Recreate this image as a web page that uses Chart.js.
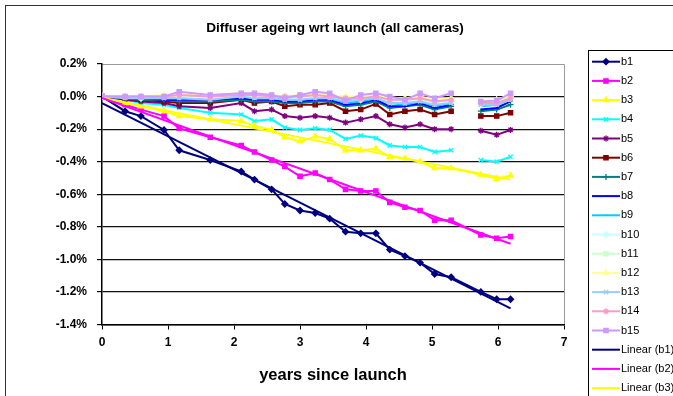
<!DOCTYPE html>
<html>
<head>
<meta charset="utf-8">
<script src="https://cdn.jsdelivr.net/npm/chart.js@4.4.0/dist/chart.umd.min.js"></script>
<style>
  body { margin: 0; background: #fff; }
</style>
</head>
<body>
<canvas id="myChart" width="673" height="396"></canvas>
<script>
// years since launch of each measurement
const years = [0, 0.35, 0.59, 0.94, 1.17, 1.64, 2.11, 2.31, 2.57, 2.77, 3.0, 3.23, 3.45, 3.69, 3.92, 4.15, 4.36, 4.59, 4.82, 5.04, 5.29, 5.74, 5.98, 6.19];

// relative change of diffuser response per band (%)
const b1  = [0, -0.09, -0.12, -0.205, -0.33, -0.39, -0.46, -0.51, -0.57, -0.66, -0.70, -0.715, -0.75, -0.83, -0.84, -0.84, -0.94, -0.98, -1.02, -1.09, -1.11, -1.20, -1.245, -1.245];
const b2  = [0, -0.05, -0.08, -0.12, -0.195, -0.25, -0.30, -0.34, -0.39, -0.43, -0.49, -0.47, -0.51, -0.57, -0.58, -0.58, -0.65, -0.68, -0.70, -0.76, -0.76, -0.85, -0.87, -0.86];
const b3  = [0, -0.04, -0.06, -0.09, -0.12, -0.14, -0.15, -0.18, -0.205, -0.25, -0.275, -0.245, -0.26, -0.33, -0.33, -0.32, -0.37, -0.38, -0.40, -0.44, -0.44, -0.48, -0.505, -0.485];
const b4  = [0, -0.02, -0.04, -0.05, -0.07, -0.10, -0.11, -0.15, -0.14, -0.19, -0.205, -0.195, -0.205, -0.26, -0.24, -0.255, -0.30, -0.31, -0.31, -0.34, -0.33, -0.39, -0.40, -0.37];
const b5  = [0, -0.02, -0.03, -0.04, -0.06, -0.07, -0.04, -0.09, -0.08, -0.12, -0.13, -0.12, -0.13, -0.16, -0.14, -0.12, -0.17, -0.19, -0.17, -0.20, -0.20, -0.21, -0.235, -0.205];
const b6  = [0, -0.01, -0.02, -0.03, -0.04, -0.04, -0.02, -0.04, -0.03, -0.06, -0.05, -0.05, -0.04, -0.09, -0.08, -0.045, -0.11, -0.09, -0.08, -0.11, -0.09, -0.12, -0.12, -0.10];
const b7  = [0, -0.01, -0.02, -0.02, -0.03, -0.03, -0.02, -0.03, -0.03, -0.04, -0.04, -0.03, -0.03, -0.06, -0.05, -0.03, -0.07, -0.06, -0.05, -0.08, -0.06, -0.09, -0.08, -0.05];
const b8  = [0, -0.01, -0.01, -0.02, -0.02, -0.02, -0.01, -0.02, -0.02, -0.03, -0.03, -0.02, -0.02, -0.05, -0.04, -0.02, -0.06, -0.06, -0.04, -0.07, -0.05, -0.08, -0.07, -0.03];
const b9  = [0, 0, -0.01, -0.01, -0.01, -0.01, 0, -0.01, -0.01, -0.02, -0.02, -0.01, -0.01, -0.04, -0.03, -0.01, -0.04, -0.05, -0.03, -0.06, -0.04, -0.06, -0.05, -0.02];
const b10 = [0, 0, -0.01, 0, 0, -0.01, 0.01, 0, 0, -0.01, -0.01, 0, 0, -0.02, -0.02, 0, -0.03, -0.03, -0.02, -0.04, -0.03, -0.05, -0.04, -0.01];
const b11 = [0, 0, 0, 0, 0.01, 0, 0.01, 0, 0.01, 0, 0, 0.01, 0.01, -0.01, -0.01, 0.01, -0.02, -0.02, -0.01, -0.03, -0.02, -0.04, -0.03, 0];
const b12 = [0, 0, 0, 0.01, 0.01, 0.01, 0.02, 0.01, 0.01, 0, 0.01, 0.01, 0.01, 0, 0, 0.01, -0.01, -0.01, 0, -0.02, -0.01, -0.03, -0.02, 0.01];
const b13 = [0, -0.01, -0.01, -0.01, -0.01, -0.02, 0, -0.01, -0.01, -0.02, -0.02, -0.01, -0.01, -0.03, -0.02, -0.01, -0.04, -0.04, -0.03, -0.05, -0.04, -0.05, -0.05, -0.02];
const b14 = [0, 0, 0, 0, 0.01, 0, 0.01, 0.01, 0, 0, 0, 0.01, 0, -0.01, -0.01, 0, -0.02, -0.02, -0.01, -0.03, -0.02, -0.04, -0.04, -0.01];
const b15 = [0, 0, 0, 0, 0.03, 0.01, 0.02, 0.02, 0.01, -0.01, 0.01, 0.03, 0.02, -0.025, 0.01, 0.02, 0, -0.02, 0.02, -0.01, 0.02, -0.03, -0.025, 0.02];

const bandNames  = ['b1', 'b2', 'b3', 'b4', 'b5', 'b6', 'b7', 'b8', 'b9', 'b10', 'b11', 'b12', 'b13', 'b14', 'b15'];
const bandValues = [b1, b2, b3, b4, b5, b6, b7, b8, b9, b10, b11, b12, b13, b14, b15];
const trendBands = [0, 1, 2];   // bands that get a linear trendline
const gapBands   = [3, 4, 5, 6, 7, 8, 9, 10, 11, 12, 13, 14];   // no data between 5.29 and 5.74
const gapAfter   = 5.29;

const yTicks = [0.2, 0, -0.2, -0.4, -0.6, -0.8, -1.0, -1.2, -1.4];
const xTicks = [0, 1, 2, 3, 4, 5, 6, 7];

const colors  = ['#000080', '#FF00FF', '#FFFF00', '#00FFFF', '#800080', '#800000', '#008080', '#0000FF',
                 '#00CCFF', '#CCFFFF', '#CCFFCC', '#FFFF99', '#99CCFF', '#FF99CC', '#CC99FF'];
const markers = ['rectRot', 'rect', 'triangle', 'crossRot', 'star', 'rect', 'cross', 'dash',
                 'dash', 'rectRot', 'rect', 'triangle', 'crossRot', 'star', 'rect'];
const FONT = '"Liberation Sans", Arial, sans-serif';

// least squares line over the measured span
function linearFit(xs, ys) {
    let n = 0, sx = 0, sy = 0, sxx = 0, sxy = 0;
    xs.forEach((x, i) => {
        const y = ys[i];
        if (y == null) return;
        n++; sx += x; sy += y; sxx += x * x; sxy += x * y;
    });
    const m = (n * sxy - sx * sy) / (n * sxx - sx * sx);
    const c = (sy - m * sx) / n;
    const x0 = xs[0], x1 = xs[xs.length - 1];
    return [{ x: x0, y: c + m * x0 }, { x: x1, y: c + m * x1 }];
}

// leave the segment across the missing measurement open
const skipGap = ctx => (ctx.p0.parsed.x === gapAfter ? 'transparent' : undefined);

const datasets = bandValues.map((vals, i) => ({
    label: bandNames[i],
    data: years.map((x, k) => ({ x: x, y: vals[k] })),
    borderColor: colors[i],
    backgroundColor: colors[i],
    borderWidth: 2,
    pointStyle: markers[i],
    pointRadius: markers[i] === 'dash' ? 2.5 : 3,
    pointBackgroundColor: colors[i],
    pointBorderColor: colors[i],
    pointBorderWidth: 1.3,
    tension: 0,
    order: 20 - i,
    segment: gapBands.includes(i) ? { borderColor: skipGap } : undefined
}));

trendBands.forEach(i => {
    datasets.push({
        label: 'Linear (' + bandNames[i] + ')',
        data: linearFit(years, bandValues[i]),
        borderColor: colors[i],
        backgroundColor: colors[i],
        borderWidth: 2,
        pointRadius: 0,
        order: 0
    });
});

// white page, outer frame, title, plot border and the side legend
const decorations = {
    id: 'decorations',
    beforeDraw(chart) {
        const ctx = chart.ctx;
        ctx.save();
        ctx.fillStyle = '#fff';
        ctx.fillRect(0, 0, chart.width, chart.height);
        ctx.strokeStyle = '#333';
        ctx.lineWidth = 1;
        ctx.strokeRect(5.5, 5.5, chart.width + 20, chart.height + 20);
        ctx.fillStyle = '#000';
        ctx.font = 'bold 13.6px ' + FONT;
        ctx.textAlign = 'center';
        ctx.textBaseline = 'middle';
        ctx.fillText('Diffuser ageing wrt launch (all cameras)', 335, 28);
        const a = chart.chartArea;
        ctx.strokeStyle = '#999';
        ctx.beginPath();
        ctx.moveTo(a.left, a.top + 0.5);
        ctx.lineTo(a.right + 0.5, a.top + 0.5);
        ctx.lineTo(a.right + 0.5, a.bottom);
        ctx.stroke();
        ctx.restore();
    },
    afterDraw(chart) {
        const ctx = chart.ctx;
        ctx.save();
        ctx.fillStyle = '#fff';
        ctx.fillRect(588.5, 50.5, 120, 400);
        ctx.strokeStyle = '#000';
        ctx.lineWidth = 1;
        ctx.strokeRect(588.5, 50.5, 120, 400);
        ctx.font = '11px ' + FONT;
        ctx.textBaseline = 'middle';
        ctx.textAlign = 'left';
        chart.data.datasets.forEach((ds, i) => {
            const y = 61.7 + i * 19.2;
            ctx.strokeStyle = ds.borderColor;
            ctx.lineWidth = ds.borderWidth;
            ctx.beginPath();
            ctx.moveTo(592, y);
            ctx.lineTo(620, y);
            ctx.stroke();
            if (ds.pointRadius > 0) {
                ctx.fillStyle = ds.pointBackgroundColor;
                ctx.strokeStyle = ds.pointBorderColor;
                ctx.lineWidth = ds.pointBorderWidth;
                Chart.helpers.drawPoint(ctx, {
                    pointStyle: ds.pointStyle,
                    radius: ds.pointRadius,
                    rotation: 0,
                    borderWidth: ds.pointBorderWidth
                }, 606, y);
            }
            ctx.fillStyle = '#000';
            ctx.fillText(ds.label, 621, y);
        });
        ctx.restore();
    }
};

const ctx = document.getElementById('myChart').getContext('2d');

new Chart(ctx, {
    type: 'line',
    data: { datasets: datasets },
    plugins: [decorations],
    options: {
        responsive: false,
        animation: false,
        layout: { padding: { top: 64, right: 109, left: 0, bottom: 0 } },
        plugins: {
            legend: { display: false },
            title: { display: false },
            tooltip: { enabled: false }
        },
        scales: {
            x: {
                type: 'linear',
                min: 0,
                max: 7,
                afterFit: s => { s.height = 71.5; },
                afterBuildTicks: s => { s.ticks = xTicks.map(v => ({ value: v })); },
                grid: { drawOnChartArea: false, tickColor: '#000', tickLength: 5 },
                border: { color: '#000', width: 1.5 },
                ticks: {
                    color: '#000',
                    padding: 6,
                    font: { family: FONT, size: 12, weight: 'bold' }
                },
                title: {
                    display: true,
                    text: 'years since launch',
                    color: '#000',
                    font: { family: FONT, size: 16.5, weight: 'bold' },
                    padding: { top: 0, bottom: 11 }
                }
            },
            y: {
                min: -1.4,
                max: 0.2,
                afterFit: s => { s.width = 102; },
                afterBuildTicks: s => { s.ticks = yTicks.map(v => ({ value: v })); },
                grid: {
                    color: c => (c.tick && c.tick.value === 0.2 ? 'transparent' : '#111'),
                    lineWidth: 1.2,
                    tickColor: '#000',
                    tickLength: 5
                },
                border: { color: '#000', width: 1.5 },
                ticks: {
                    color: '#000',
                    padding: 10,
                    font: { family: FONT, size: 12, weight: 'bold' },
                    callback: v => v.toFixed(1) + '%'
                }
            }
        }
    }
});
</script>
</body>
</html>
